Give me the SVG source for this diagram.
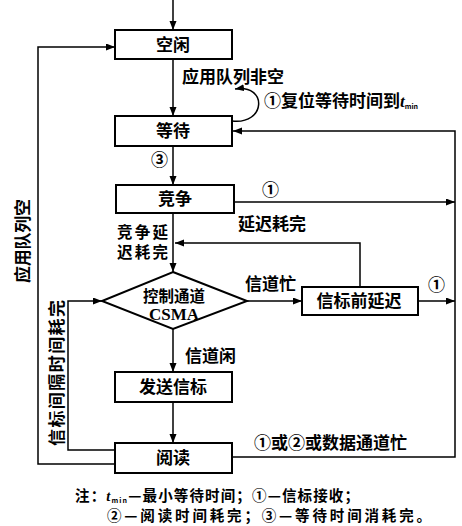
<svg xmlns="http://www.w3.org/2000/svg" width="462" height="526" viewBox="0 0 462 526">
<defs>
<marker id="ah" markerUnits="userSpaceOnUse" markerWidth="10" markerHeight="8" refX="9" refY="3.5" orient="auto">
<path d="M0,0 L9,3.5 L0,7 z" fill="#000"/>
</marker>
</defs>
<style>
.box{fill:#fff;stroke:#000;stroke-width:2}
.ln{fill:none;stroke:#000;stroke-width:1.5}
.ar{marker-end:url(#ah)}
text{font-family:"Noto Sans CJK SC","Noto Sans",sans-serif;font-size:17px;font-weight:bold;fill:#000}
.c{text-anchor:middle}
.s{font-size:15.5px}
.n{font-size:14.5px}
.serif{font-family:"Liberation Serif","Noto Sans CJK SC",serif}
.sub{font-size:7px}
</style>
<rect width="462" height="526" fill="#fff"/>
<g id="connectors">
<path class="ln ar" d="M173,0 V30"/>
<path class="ln ar" d="M173,59 V116"/>
<path class="ln ar" d="M232,121 C266,125 268,84 235,89"/>
<path class="ln ar" d="M173,146 V185"/>
<path class="ln ar" d="M234,202 H455"/>
<path class="ln ar" d="M173,213 V272"/>
<path class="ln ar" d="M360,287 V243 H175"/>
<path class="ln ar" d="M247,301 H302"/>
<path class="ln ar" d="M418,301 H455"/>
<path class="ln ar" d="M173,329 V372"/>
<path class="ln ar" d="M173,402 V443"/>
<path class="ln ar" d="M232,457 H455 V131 H233"/>
<path class="ln ar" d="M115,464 H38 V47 H115"/>
<path class="ln ar" d="M115,450 H68 V301 H102"/>
</g>
<g id="kongxian"><rect class="box" x="115" y="30" width="117" height="29"/><text class="c" x="173" y="51">空闲</text></g>
<g id="dengdai"><rect class="box" x="115" y="116" width="117" height="30"/><text class="c" x="173" y="137">等待</text></g>
<g id="jingzheng"><rect class="box" x="116" y="185" width="118" height="28"/><text class="c" x="175" y="205">竞争</text></g>
<g id="csma"><polygon class="box" points="173,272 247,301 173,329 102,301"/><text class="c s" x="174" y="302">控制通道</text><text class="c serif" x="174" y="320">CSMA</text></g>
<g id="xinbiaoqianyanchi"><rect class="box" x="302" y="287" width="116" height="28"/><text class="c" x="359" y="307">信标前延迟</text></g>
<g id="fasongxinbiao"><rect class="box" x="115" y="372" width="117" height="30"/><text class="c" x="173" y="393">发送信标</text></g>
<g id="yuedu"><rect class="box" x="115" y="443" width="117" height="30"/><text class="c" x="173" y="464">阅读</text></g>
<g id="labels">
<text x="182" y="83">应用队列非空</text>
<text x="264" y="107">①复位等待时间到<tspan class="serif" font-style="italic">t</tspan><tspan class="sub" dy="2">min</tspan></text>
<text x="151" y="166">③</text>
<text x="262" y="196">①</text>
<text x="238" y="230">延迟耗完</text>
<text class="s" x="117" y="238" textLength="51" lengthAdjust="spacing">竞争延</text>
<text class="s" x="117" y="258" textLength="51" lengthAdjust="spacing">迟耗完</text>
<text x="245" y="290">信道忙</text>
<text x="428" y="291">①</text>
<text x="185" y="362">信道闲</text>
<text x="254" y="449">①或②或数据通道忙</text>
<text transform="translate(29,241) rotate(-90)" class="c" textLength="84" lengthAdjust="spacing">应用队列空</text>
<text transform="translate(63,373) rotate(-90)" class="c" textLength="146" lengthAdjust="spacing">信标间隔时间耗完</text>
<text class="n" x="75" y="501" textLength="284" lengthAdjust="spacing">注：<tspan class="serif" font-style="italic">t</tspan><tspan class="sub" dy="2">min</tspan><tspan dy="-2">—最小等待时间；①—信标接收；</tspan></text>
<text class="n" x="107" y="521" textLength="324" lengthAdjust="spacing">②—阅读时间耗完；③—等待时间消耗完。</text>
</g>
</svg>
